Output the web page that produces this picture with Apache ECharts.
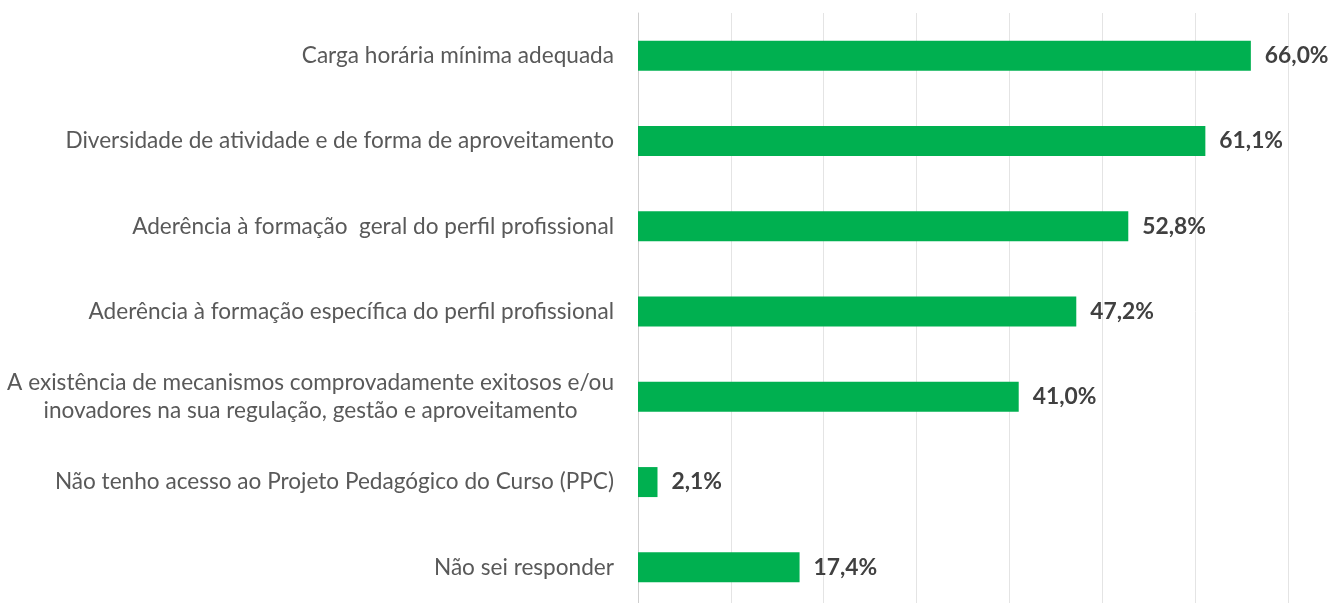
<!DOCTYPE html>
<html>
<head>
<meta charset="utf-8">
<script src="https://cdn.jsdelivr.net/npm/echarts@6/dist/echarts.min.js"></script>
<style>
html,body{margin:0;padding:0;background:#fff;overflow:hidden;}
#chart{width:1332px;height:620px;}
</style>
</head>
<body>
<div id="chart"></div>
<script>
const categories = [
  "Carga horária mínima adequada",
  "Diversidade de atividade e de forma de aproveitamento",
  "Aderência à formação  geral do perfil profissional",
  "Aderência à formação específica do perfil profissional",
  "A existência de mecanismos comprovadamente exitosos e/ou\ninovadores na sua regulação, gestão e aproveitamento",
  "Não tenho acesso ao Projeto Pedagógico do Curso (PPC)",
  "Não sei responder"
];
const values = [66.0, 61.1, 52.8, 47.2, 41.0, 2.1, 17.4];

const chart = echarts.init(document.getElementById('chart'));
chart.setOption({
  animation: false,
  grid: { left: 638, top: 13, width: 650, height: 597, containLabel: false },
  xAxis: {
    type: 'value', min: 0, max: 70, interval: 10,
    axisLabel: { show: false },
    axisLine: { show: false },
    axisTick: { show: false },
    splitLine: { show: true, lineStyle: { color: '#e4e4e4', width: 1 } }
  },
  yAxis: {
    type: 'category',
    inverse: true,
    data: categories,
    axisLine: { show: true, lineStyle: { color: '#cfcfcf', width: 1 } },
    axisTick: { show: false },
    axisLabel: {
      margin: 24,
      align: 'right',
      formatter: function (v) { return '{c|' + v + '}'; },
      rich: {
        c: { fontFamily: 'Lato', fontSize: 22.6, color: '#595959', lineHeight: 28, align: 'center' }
      }
    }
  },
  series: [{
    type: 'bar',
    data: values,
    barWidth: 30,
    itemStyle: { color: '#00B050' },
    label: {
      show: true,
      position: 'right',
      distance: 14,
      fontFamily: 'Lato',
      fontWeight: 'bold',
      fontSize: 22.8,
      color: '#404040',
      formatter: function (p) { return p.value.toFixed(1).replace('.', ',') + '%'; }
    }
  }]
});
</script>
</body>
</html>
